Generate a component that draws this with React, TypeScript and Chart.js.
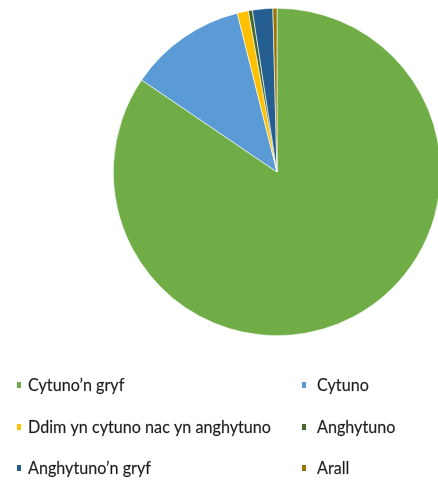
import React, { useEffect, useRef } from "react";
import { Chart, registerables } from "chart.js";

Chart.register(...registerables);

const labels = [
  "Cytuno’n gryf",
  "Cytuno",
  "Ddim yn cytuno nac yn anghytuno",
  "Anghytuno",
  "Anghytuno’n gryf",
  "Arall",
];
const values = [84.5, 11.6, 1.1, 0.4, 2.0, 0.4];
const colors = ["#70AD47", "#5B9BD5", "#FFC000", "#43682B", "#255E91", "#997300"];

const FONT = '17px Lato, "Open Sans", sans-serif';

const legendPlugin = {
  id: "gridLegend",
  afterDraw(chart: any) {
    const ctx = chart.ctx;
    const colMarkerX = [17, 302];
    const colTextX = [28, 317];
    const rowBase = [391, 433, 474];
    ctx.save();
    ctx.font = FONT;
    ctx.textBaseline = "alphabetic";
    ctx.textAlign = "left";
    const lbls = chart.data.labels as string[];
    const cols = chart.data.datasets[0].backgroundColor as string[];
    const longest = ctx.measureText(lbls[2]).width;
    const sx = 243 / longest;
    lbls.forEach((l, i) => {
      const c = i % 2;
      const r = Math.floor(i / 2);
      ctx.fillStyle = cols[i];
      ctx.fillRect(colMarkerX[c], rowBase[r] - 9, 4, 6);
      ctx.save();
      ctx.translate(colTextX[c], rowBase[r]);
      ctx.scale(sx, 1.06);
      ctx.fillStyle = "#1e1e1e";
      ctx.strokeStyle = "rgba(30,30,30,0.35)";
      ctx.lineWidth = 0.5;
      ctx.fillText(l, 0, 0);
      ctx.strokeText(l, 0, 0);
      ctx.restore();
    });
    ctx.restore();
  },
};

export default function App() {
  const ref = useRef<HTMLCanvasElement>(null);
  useEffect(() => {
    document.body.style.margin = "0";
    const chart = new Chart(ref.current!, {
      type: "pie",
      data: {
        labels,
        datasets: [
          {
            data: values,
            backgroundColor: colors,
            borderColor: "#ffffff",
            borderWidth: 0.6,
          },
        ],
      },
      options: {
        responsive: false,
        animation: false,
        layout: { padding: { left: 113, right: 5, top: 8, bottom: 145 } },
        plugins: {
          legend: { display: false },
          tooltip: { enabled: false },
        },
      },
      plugins: [legendPlugin],
    });
    return () => chart.destroy();
  }, []);
  return (
    <div style={{ width: 438, height: 481, overflow: "hidden", position: "relative", background: "#fff" }}>
      <canvas ref={ref} width={446} height={481} style={{ display: "block" }} />
    </div>
  );
}
